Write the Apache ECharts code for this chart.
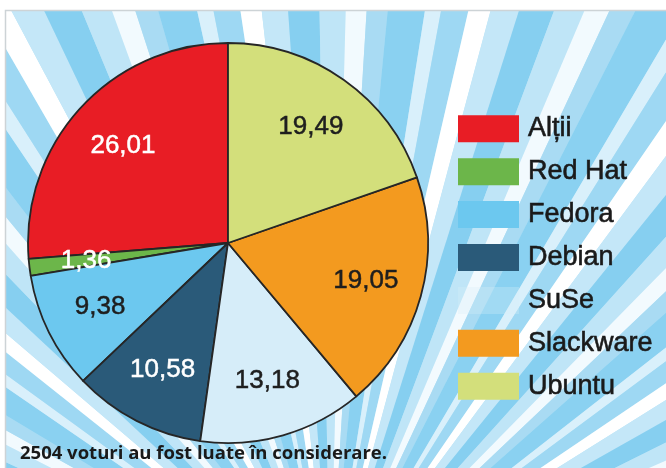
<!DOCTYPE html>
<html>
<head>
<meta charset="utf-8">
<script src="https://cdn.jsdelivr.net/npm/echarts@6/dist/echarts.min.js"></script>
<style>
html,body{margin:0;padding:0;background:#fff}
#main{width:666px;height:468px}
</style>
</head>
<body>
<div id="main"></div>
<script>
// distributii, in ordinea legendei (invers acelor de ceas de la ora 12)
var names = ["Alții", "Red Hat", "Fedora", "Debian", "SuSe", "Slackware", "Ubuntu"];
var values = [26.01, 1.36, 9.38, 10.58, 13.18, 19.05, 19.49];
var labels = ["26,01", "1,36", "9,38", "10,58", "13,18", "19,05", "19,49"];
var colors = ["#e81d25", "#6cb64a", "#6cc8ef", "#2a5a79", "#d6edf9", "#f39a1f", "#d3df7b"];
var labelColors = ["#fff", "#fff", "#1e1e1e", "#fff", "#1e1e1e", "#1e1e1e", "#1e1e1e"];
var note = "2504 voturi au fost luate în considerare.";

var myChart = echarts.init(document.getElementById("main"));

// fundal cu raze (decor)
var rayPattern = [[3.0, "#86cff0"], [2.5, "#bfe5f7"], [2.0, "#f2fafe"], [2.0, "#a9dbf3"], [3.5, "#8ad1f1"],
    [1.5, "#d9f0fb"], [2.5, "#9ed8f3"], [2.0, "#ffffff"], [2.5, "#c4e7f8"]];
var bg = [{type: "rect", shape: {x: 0, y: 0, width: 666, height: 468}, style: {fill: "#b5e2f6"}, z: -20, silent: true}];
var a = -Math.PI, k = 0;
while (a < 0.05) {
    var p = rayPattern[k % rayPattern.length];
    var w = p[0] * Math.PI / 180;
    bg.push({type: "sector", shape: {cx: 330, cy: 610, r0: 0, r: 900, startAngle: a, endAngle: a + w},
        style: {fill: p[1]}, z: -10, silent: true});
    a += w;
    k++;
}
// margini albe + chenar
bg.push({type: "rect", shape: {x: 0, y: 0, width: 666, height: 10}, style: {fill: "#fff"}, z: -5, silent: true});
bg.push({type: "rect", shape: {x: 0, y: 0, width: 5, height: 468}, style: {fill: "#fff"}, z: -5, silent: true});
bg.push({type: "polyline", shape: {points: [[5.5, 468], [5.5, 10.5], [666, 10.5]]}, style: {stroke: "#cdd3d6", lineWidth: 1.5, fill: null}, z: -4, silent: true});

var pieData = names.map(function (n, i) {
    return {name: n, value: values[i], itemStyle: {color: colors[i]}};
});
var labelData = names.map(function (n, i) {
    return {name: n, value: values[i], label: {color: labelColors[i], textBorderColor: labelColors[i]}};
});

var option = {
    animation: false,
    graphic: {elements: bg},
    title: {
        text: note,
        left: 20,
        top: 444,
        padding: 0,
        textStyle: {fontFamily: "Open Sans", fontWeight: "bold", fontSize: 18.5, color: "#1a1a1a"}
    },
    legend: {
        orient: "vertical",
        left: 458,
        top: 115,
        padding: 0,
        icon: "rect",
        itemWidth: 61,
        itemHeight: 27,
        itemGap: 15.3,
        selectedMode: false,
        itemStyle: {borderWidth: 0},
        textStyle: {fontFamily: "Liberation Sans", fontSize: 27, color: "#1a1a1a",
            textBorderColor: "#1a1a1a", textBorderWidth: 0.6, padding: [0, 0, 0, 4]},
        data: names.map(function (n, i) {
            // SuSe abia se vede pe fundal
            return {name: n, itemStyle: {color: colors[i], opacity: n === "SuSe" ? 0.3 : 1}};
        })
    },
    series: [{
        type: "pie",
        z: 3,
        center: [228, 243],
        radius: [0, 200],
        startAngle: 90,
        clockwise: false,
        silent: true,
        label: {show: false},
        labelLine: {show: false},
        itemStyle: {borderColor: "#262626", borderWidth: 1.8},
        data: pieData
    }, {
        // strat transparent doar pentru etichete (mai departe de centru)
        type: "pie",
        z: 4,
        center: [228, 243],
        radius: [0, 280],
        startAngle: 90,
        clockwise: false,
        silent: true,
        legendHoverLink: false,
        itemStyle: {color: "rgba(0,0,0,0)", borderWidth: 0},
        label: {
            show: true,
            position: "inside",
            fontFamily: "Liberation Sans",
            fontSize: 26,
            textBorderWidth: 0.5,
            formatter: function (p) { return labels[p.dataIndex]; }
        },
        labelLine: {show: false},
        data: labelData
    }]
};
myChart.setOption(option);
</script>
</body>
</html>
